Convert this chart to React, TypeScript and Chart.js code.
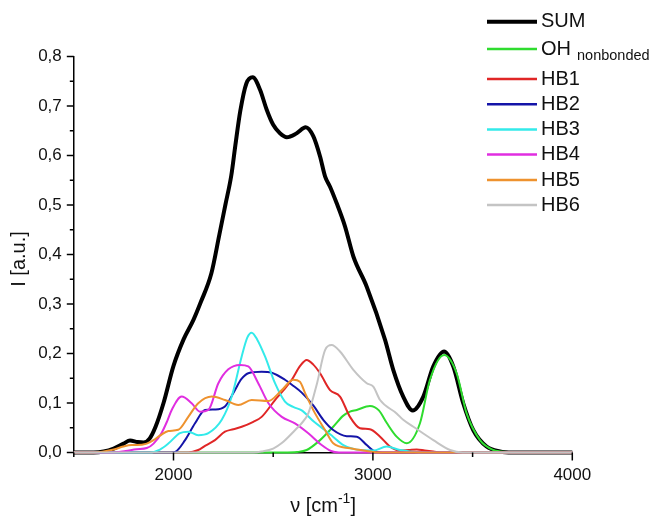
import { useEffect, useRef } from "react";
import { Chart, registerables } from "chart.js";
Chart.register(...registerables);

// ---------- data ----------
const sumX = [1500, 1600, 1650, 1700, 1750, 1782, 1820, 1850, 1880, 1910, 1950, 2000, 2050, 2100, 2135, 2190, 2230, 2260, 2290, 2310, 2335, 2365, 2397, 2434, 2467, 2500, 2534, 2568, 2618, 2663, 2701, 2735, 2760, 2785, 2818, 2860, 2902, 2969, 3061, 3102, 3152, 3200, 3253, 3303, 3357, 3403, 3453, 3503, 3570, 3637, 3700, 4000];
const sumY = [0, 0, 0.002, 0.008, 0.018, 0.024, 0.021, 0.020, 0.028, 0.052, 0.10, 0.175, 0.228, 0.268, 0.302, 0.362, 0.44, 0.50, 0.56, 0.62, 0.69, 0.745, 0.758, 0.733, 0.693, 0.662, 0.645, 0.637, 0.645, 0.657, 0.639, 0.598, 0.558, 0.537, 0.504, 0.457, 0.396, 0.335, 0.2275, 0.167, 0.113, 0.085, 0.113, 0.174, 0.204, 0.174, 0.0995, 0.0455, 0.012, 0.002, 0, 0];

const ohX = [1500, 2550, 2620, 2668, 2735, 2801, 2850, 2885, 2919, 2985, 3030, 3069, 3119, 3170, 3236, 3286, 3357, 3420, 3470, 3537, 3604, 3670, 3750, 4000];
const ohY = [0, 0, 0.001, 0.005, 0.025, 0.052, 0.074, 0.0825, 0.086, 0.094, 0.085, 0.06, 0.032, 0.0186, 0.059, 0.147, 0.197, 0.16, 0.079, 0.025, 0.005, 0.001, 0, 0];

const hb1X = [1500, 2074, 2124, 2160, 2208, 2258, 2300, 2342, 2400, 2442, 2509, 2550, 2593, 2635, 2668, 2700, 2735, 2785, 2835, 2885, 2935, 2985, 3036, 3086, 3136, 3180, 3220, 3260, 3303, 3350, 4000];
const hb1Y = [0, 0, 0.005, 0.014, 0.025, 0.042, 0.047, 0.052, 0.062, 0.072, 0.106, 0.125, 0.147, 0.175, 0.187, 0.178, 0.16, 0.126, 0.113, 0.072, 0.049, 0.047, 0.032, 0.012, 0.004, 0.005, 0.006, 0.004, 0.002, 0, 0];

const hb2X = [1500, 1990, 2008, 2058, 2108, 2158, 2208, 2258, 2308, 2340, 2375, 2442, 2492, 2559, 2600, 2643, 2701, 2751, 2801, 2869, 2919, 2969, 3002, 3050, 4000];
const hb2Y = [0, 0, 0.001, 0.025, 0.059, 0.086, 0.087, 0.093, 0.126, 0.148, 0.16, 0.163, 0.161, 0.147, 0.135, 0.121, 0.095, 0.066, 0.0455, 0.033, 0.032, 0.015, 0.004, 0, 0];

const hb3X = [1500, 1880, 1932, 1974, 2032, 2074, 2124, 2175, 2242, 2292, 2342, 2370, 2392, 2420, 2459, 2509, 2559, 2600, 2643, 2705, 2760, 2800, 2852, 2935, 3002, 3069, 3136, 3186, 3230, 4000];
const hb3Y = [0, 0, 0.006, 0.018, 0.039, 0.042, 0.035, 0.039, 0.066, 0.113, 0.194, 0.232, 0.242, 0.228, 0.194, 0.14, 0.103, 0.092, 0.085, 0.062, 0.045, 0.032, 0.015, 0.005, 0.004, 0.012, 0.005, 0.002, 0, 0];

const hb4X = [1500, 1700, 1760, 1815, 1866, 1900, 1941, 1970, 1991, 2041, 2091, 2133, 2175, 2225, 2275, 2334, 2375, 2425, 2476, 2543, 2609, 2676, 2743, 2790, 2830, 4000];
const hb4Y = [0, 0, 0.003, 0.0065, 0.009, 0.018, 0.04, 0.065, 0.086, 0.113, 0.0995, 0.0825, 0.086, 0.14, 0.168, 0.177, 0.174, 0.14, 0.0995, 0.072, 0.059, 0.039, 0.015, 0.003, 0, 0];

const hb5X = [1500, 1600, 1700, 1748, 1790, 1815, 1866, 1900, 1932, 1974, 2024, 2074, 2124, 2192, 2258, 2325, 2392, 2476, 2543, 2601, 2634, 2660, 2710, 2760, 2801, 2885, 2969, 3030, 4000];
const hb5Y = [0, 0, 0.006, 0.012, 0.015, 0.015, 0.018, 0.025, 0.034, 0.0435, 0.046, 0.072, 0.0995, 0.113, 0.106, 0.096, 0.106, 0.104, 0.126, 0.147, 0.143, 0.12, 0.079, 0.0455, 0.0186, 0.0085, 0.003, 0, 0];

const hb6X = [1500, 2400, 2442, 2500, 2543, 2609, 2640, 2676, 2720, 2760, 2793, 2835, 2902, 2969, 3002, 3036, 3119, 3152, 3203, 3303, 3387, 3450, 4000];
const hb6Y = [0, 0, 0.002, 0.008, 0.019, 0.045, 0.058, 0.079, 0.14, 0.207, 0.217, 0.204, 0.167, 0.14, 0.133, 0.106, 0.079, 0.066, 0.052, 0.025, 0.005, 0, 0];

const seriesMain = ["SUM", "OH", "HB1", "HB2", "HB3", "HB4", "HB5", "HB6"];
const seriesSub = ["", "nonbonded", "", "", "", "", "", ""];
const seriesColors = ["#000000", "#2fdc2f", "#e02626", "#1414a8", "#33eaea", "#e02ee0", "#ee922e", "#c4c4c4"];
const seriesWidths = [4, 2, 2, 2, 2, 2, 2, 2];
const seriesX = [sumX, ohX, hb1X, hb2X, hb3X, hb4X, hb5X, hb6X];
const seriesY = [sumY, ohY, hb1Y, hb2Y, hb3Y, hb4Y, hb5Y, hb6Y];

const xTickStep = 500;
const yTickStep = 0.1;
const xMin = 1500, xMax = 4000, yMin = 0, yMax = 0.8;

const FONT = '"Liberation Sans", Arial, sans-serif';

const decorPlugin = {
  id: "decor",
  afterDraw(chart: any) {
    const ctx = chart.ctx as CanvasRenderingContext2D;
    const xs = chart.scales.x;
    const ys = chart.scales.y;
    const area = chart.chartArea;
    ctx.save();
    ctx.strokeStyle = "#000";
    ctx.lineWidth = 1.5;
    // x ticks (major every 1000, minor every 500)
    for (let v = xMin; v <= xMax + 1e-6; v += xTickStep) {
      const px = xs.getPixelForValue(v);
      const len = v % 1000 === 0 ? 8 : 4.5;
      ctx.beginPath();
      ctx.moveTo(px, area.bottom);
      ctx.lineTo(px, area.bottom + len);
      ctx.stroke();
    }
    // y ticks (major every 0.1, minor every 0.05)
    for (let i = 0; i <= Math.round((yMax - yMin) / (yTickStep / 2)); i++) {
      const v = yMin + i * (yTickStep / 2);
      const py = ys.getPixelForValue(v);
      const len = i % 2 === 0 ? 7 : 4;
      ctx.beginPath();
      ctx.moveTo(area.left, py);
      ctx.lineTo(area.left - len, py);
      ctx.stroke();
    }
    // axis titles
    ctx.fillStyle = "#111";
    ctx.textBaseline = "middle";
    const cx = (area.left + area.right) / 2;
    const ty = 506;
    const part1 = "ν [cm";
    const sup = "-1";
    const part3 = "]";
    ctx.font = `20px ${FONT}`;
    const w1 = ctx.measureText(part1).width;
    const w3 = ctx.measureText(part3).width;
    ctx.font = `14px ${FONT}`;
    const w2 = ctx.measureText(sup).width;
    const total = w1 + w2 + w3;
    let sx = cx - total / 2;
    ctx.textAlign = "left";
    ctx.font = `20px ${FONT}`;
    ctx.fillText(part1, sx, ty);
    sx += w1;
    ctx.font = `14px ${FONT}`;
    ctx.fillText(sup, sx, ty - 7);
    sx += w2;
    ctx.font = `20px ${FONT}`;
    ctx.fillText(part3, sx, ty);
    // y title
    ctx.save();
    ctx.translate(19, 259);
    ctx.rotate(-Math.PI / 2);
    ctx.textAlign = "center";
    ctx.font = `20px ${FONT}`;
    ctx.fillText("I [a.u.]", 0, 0);
    ctx.restore();
    // legend
    const legY = [21.7, 49, 79, 104.3, 129.5, 154.5, 180, 205];
    for (let i = 0; i < seriesMain.length; i++) {
      const y = legY[i];
      ctx.strokeStyle = seriesColors[i];
      ctx.lineWidth = i === 0 ? 4 : 2.5;
      ctx.beginPath();
      ctx.moveTo(487, y);
      ctx.lineTo(537, y);
      ctx.stroke();
      ctx.fillStyle = "#111";
      ctx.textAlign = "left";
      ctx.font = `20px ${FONT}`;
      ctx.fillText(seriesMain[i], 541, y);
      if (seriesSub[i]) {
        const w = ctx.measureText(seriesMain[i]).width;
        ctx.font = `14.5px ${FONT}`;
        ctx.fillText(seriesSub[i], 541 + w + 6, y + 7);
      }
    }
    ctx.restore();
  },
};

export default function App() {
  const ref = useRef<HTMLCanvasElement | null>(null);
  useEffect(() => {
    const canvas = ref.current;
    if (!canvas) return;
    const datasets = seriesMain.map((name, i) => ({
      label: name + (seriesSub[i] ? " " + seriesSub[i] : ""),
      data: seriesX[i].map((x, j) => ({ x, y: seriesY[i][j] })),
      borderColor: seriesColors[i],
      backgroundColor: seriesColors[i],
      borderWidth: seriesWidths[i],
      pointRadius: 0,
      fill: false,
      cubicInterpolationMode: "monotone" as const,
      clip: 8,
      order: i === 0 ? 20 : 10 - i,
    }));
    const chart = new Chart(canvas, {
      type: "line",
      data: { datasets },
      options: {
        animation: false,
        responsive: false,
        maintainAspectRatio: false,
        layout: { padding: { left: 0, right: 651 - 572.3, top: 56.5, bottom: 0 } },
        plugins: { legend: { display: false }, tooltip: { enabled: false } },
        scales: {
          x: {
            type: "linear",
            min: xMin,
            max: xMax,
            grid: { display: false, drawTicks: false },
            border: { display: true, color: "#000", width: 1.5 },
            ticks: {
              stepSize: xTickStep,
              autoSkip: false,
              maxRotation: 0,
              padding: 13,
              color: "#111",
              font: { family: FONT, size: 17 },
              callback: (v: any) => (Number(v) % 1000 === 0 ? String(v) : ""),
            },
            afterFit: (s: any) => {
              s.height = 517 - 452.5;
            },
          },
          y: {
            type: "linear",
            min: yMin,
            max: yMax,
            grid: { display: false, drawTicks: false },
            border: { display: true, color: "#000", width: 1.5 },
            ticks: {
              stepSize: yTickStep,
              padding: 12,
              color: "#111",
              font: { family: FONT, size: 17 },
              callback: (v: any) => Number(v).toFixed(1).replace(".", ","),
            },
            afterFit: (s: any) => {
              s.width = 73.8;
            },
          },
        },
      },
      plugins: [decorPlugin],
    });
    return () => chart.destroy();
  }, []);
  return (
    <div style={{ position: "absolute", left: 0, top: 0, width: 651, height: 517, background: "#fff" }}>
      <canvas ref={ref} width={651} height={517} style={{ width: 651, height: 517, display: "block" }} />
    </div>
  );
}
